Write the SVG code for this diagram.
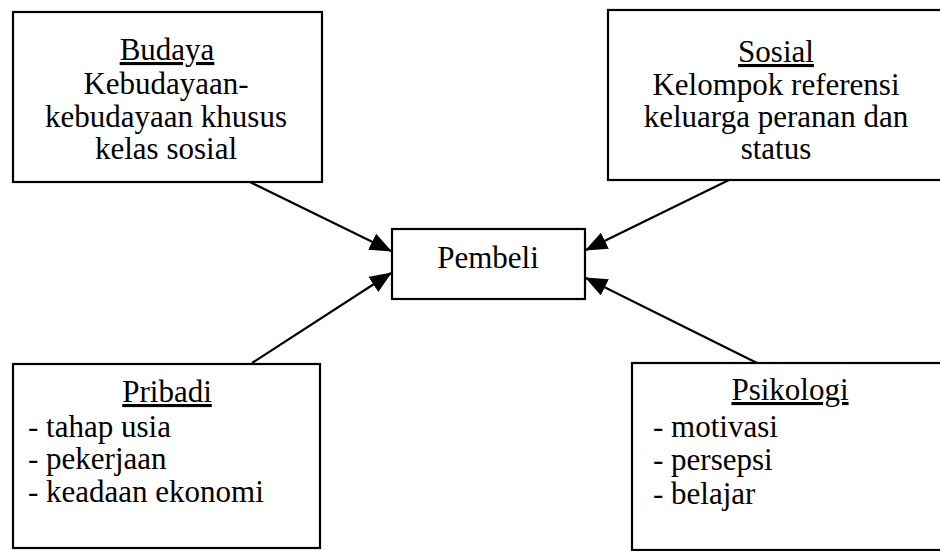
<svg xmlns="http://www.w3.org/2000/svg" width="940" height="551" viewBox="0 0 940 551">
<style>
.box{fill:#fff;stroke:#000;stroke-width:2.2}
.t{font-family:"Liberation Serif","Times New Roman",serif;font-size:31px;fill:#000}
.c{text-anchor:middle}
.u{text-decoration:underline}
.ln{stroke:#000;stroke-width:2.2;fill:none}
</style>
<defs>
<marker id="ah" markerUnits="userSpaceOnUse" markerWidth="22" markerHeight="18" viewBox="0 0 22 18" refX="21" refY="9" orient="auto">
<path d="M0,0 L22,9 L0,18 Z" fill="#000"/>
</marker>
</defs>
<g id="connectors">
<line class="ln" x1="250" y1="182" x2="391" y2="251" marker-end="url(#ah)"/>
<line class="ln" x1="252" y1="363" x2="391" y2="273" marker-end="url(#ah)"/>
<line class="ln" x1="729" y1="180" x2="586" y2="250" marker-end="url(#ah)"/>
<line class="ln" x1="757" y1="363" x2="586" y2="278" marker-end="url(#ah)"/>
</g>
<g id="budaya">
<rect class="box" x="13" y="12" width="309" height="170"/>
<text class="t c" x="167" y="60"><tspan class="u">Budaya</tspan></text>
<text class="t c" x="166" y="94">Kebudayaan-</text>
<text class="t c" x="166" y="127">kebudayaan khusus</text>
<text class="t c" x="166" y="159">kelas sosial</text>
</g>
<g id="sosial">
<rect class="box" x="608" y="10" width="340" height="170"/>
<text class="t c" x="776" y="62"><tspan class="u">Sosial</tspan></text>
<text class="t c" x="776" y="95">Kelompok referensi</text>
<text class="t c" x="776" y="127">keluarga peranan dan</text>
<text class="t c" x="776" y="159">status</text>
</g>
<g id="pembeli">
<rect class="box" x="392" y="229" width="193" height="70"/>
<text class="t c" x="488" y="268">Pembeli</text>
</g>
<g id="pribadi">
<rect class="box" x="13" y="364" width="307" height="184"/>
<text class="t c" x="167" y="402"><tspan class="u">Pribadi</tspan></text>
<text class="t" x="28" y="437">- tahap usia</text>
<text class="t" x="28" y="469">- pekerjaan</text>
<text class="t" x="28" y="502">- keadaan ekonomi</text>
</g>
<g id="psikologi">
<rect class="box" x="632" y="363" width="320" height="187"/>
<text class="t c" x="790" y="400"><tspan class="u">Psikologi</tspan></text>
<text class="t" x="653" y="437">- motivasi</text>
<text class="t" x="653" y="470">- persepsi</text>
<text class="t" x="653" y="504">- belajar</text>
</g>
</svg>
